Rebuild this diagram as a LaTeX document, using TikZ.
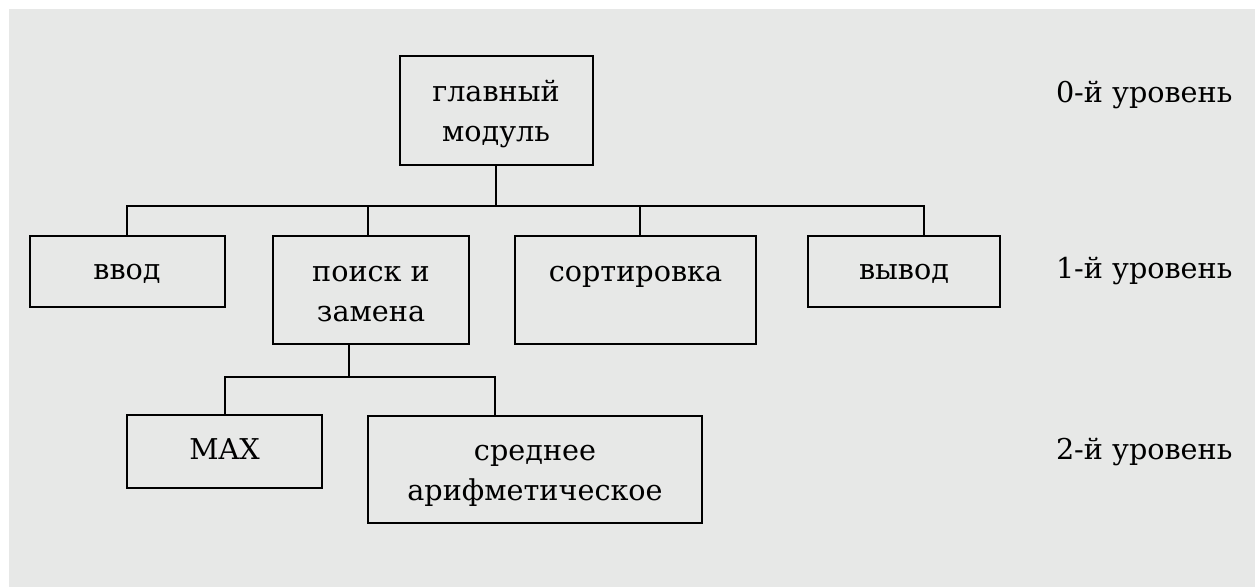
\documentclass[tikz,border=0pt]{standalone}
\usepackage{fontspec}
\setmainfont{DejaVu Serif}
\definecolor{bggray}{RGB}{231,232,231}
\newcommand{\twolines}[2]{\begin{tabular}{@{}c@{}}\rule{0pt}{26pt}#1\\#2\end{tabular}}
\tikzset{every picture/.style={line width=1.5pt}}
\tikzset{
	modbox/.style={draw, inner sep=0pt, font=\fontsize{21.5}{30}\selectfont,
		execute at begin node=\strut},
	lvltext/.style={anchor=west, inner sep=0pt, font=\fontsize{21.5}{30}\selectfont,
		execute at begin node=\strut}}
\begin{document}
\begin{tikzpicture}[x=0.75pt,y=0.75pt,yscale=-1,xscale=1]
	\useasboundingbox (0,0) rectangle (1255,587);
	%Shape: Background
	\fill [bggray] (9,9) rectangle (1255,587);

	%Shape: Rectangle, level 0
	\node [modbox, minimum width=144.75pt, minimum height=81.75pt] (main) at (496,110.5) {\twolines{главный}{модуль}};
	%Shape: Rectangle, level 1
	\node [modbox, minimum width=146.25pt, minimum height=53.25pt] (vvod) at (127,271.5) {ввод};
	\node [modbox, minimum width=147pt, minimum height=81pt] (poisk) at (371,290) {\twolines{поиск и}{замена}};
	\node [modbox, minimum width=180.75pt, minimum height=81pt] (sort) at (635.5,290) {\twolines{сортировка}{\strut}};
	\node [modbox, minimum width=144pt, minimum height=53.25pt] (vyvod) at (904,271.5) {вывод};
	%Shape: Rectangle, level 2
	\node [modbox, minimum width=146.25pt, minimum height=54.75pt] (max) at (224.5,451.5) {MAX};
	\node [modbox, minimum width=250.5pt, minimum height=80.25pt] (sredn) at (535,469.5) {\twolines{среднее}{арифметическое}};

	%Straight Lines, bus under level 0
	\coordinate (busA) at (496,206);
	\draw (main.south) -- (busA);
	\draw (vvod.north) |- (busA);
	\draw ([xshift=-2.25pt]poisk.north) |- (busA);
	\draw ([xshift=3.375pt]sort.north) |- (busA);
	\draw ([xshift=15pt]vyvod.north) |- (busA);
	%Straight Lines, bus under poisk
	\coordinate (busB) at (349,377);
	\draw ([xshift=-16.5pt]poisk.south) -- (busB);
	\draw (max.north) |- (busB);
	\draw ([xshift=-30pt]sredn.north) |- (busB);

	% Text Node
	\node [lvltext] (lvl0) at (1055,94) {0-й уровень};
	% Text Node
	\node [lvltext] (lvl1) at (1055,270) {1-й уровень};
	% Text Node
	\node [lvltext] (lvl2) at (1055,451) {2-й уровень};

\end{tikzpicture}
\end{document}
